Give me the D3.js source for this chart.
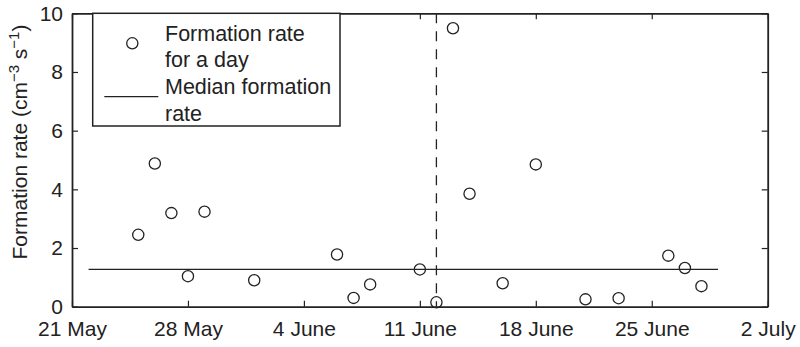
<!DOCTYPE html>
<html lang="en">
<head>
    <meta charset="UTF-8">
    <title>Formation rate</title>
    <script src="https://cdn.jsdelivr.net/npm/d3@7"></script>
    <style>
        body { margin: 0; background: #fff; }
        text { font-family: "Liberation Sans", Arial, Helvetica, sans-serif; fill: #222; }
    </style>
</head>
<body>
<svg id="chart" width="800" height="347"></svg>

<script>
    /* global d3 */

    // daily formation rates (date of event, rate in cm^-3 s^-1)
    var days = ["2010-05-25", "2010-05-26", "2010-05-27", "2010-05-28", "2010-05-29",
        "2010-06-01", "2010-06-06", "2010-06-07", "2010-06-08", "2010-06-11",
        "2010-06-12", "2010-06-13", "2010-06-14", "2010-06-16", "2010-06-18",
        "2010-06-21", "2010-06-23", "2010-06-26", "2010-06-27", "2010-06-28"];
    var rates = [2.45, 4.88, 3.19, 1.04, 3.24,
        0.9, 1.78, 0.3, 0.76, 1.27,
        0.15, 9.49, 3.85, 0.8, 4.85,
        0.25, 0.29, 1.74, 1.32, 0.7];

    var medianRate = 1.27;
    var medianSpan = ["2010-05-22", "2010-06-29"];
    var markerDay = "2010-06-12";

    var xTicks = ["2010-05-21", "2010-05-28", "2010-06-04", "2010-06-11",
        "2010-06-18", "2010-06-25", "2010-07-02"];
    var xTickLabels = ["21 May", "28 May", "4 June", "11 June", "18 June", "25 June", "2 July"];
    var yTicks = [0, 2, 4, 6, 8, 10];

    var parse = d3.utcParse("%Y-%m-%d");

    var svg = d3.select("#chart"),
        margin = {top: 13.3, right: 32.3, bottom: 40.3, left: 72},
        width = 800 - margin.left - margin.right,
        height = 347 - margin.top - margin.bottom,
        g = svg.append("g").attr("transform", "translate(" + margin.left + "," + margin.top + ")");

    var x = d3.scaleUtc()
        .domain([parse(xTicks[0]), parse(xTicks[xTicks.length - 1])])
        .range([0, width]);
    var y = d3.scaleLinear().domain([0, 10]).range([height, 0]);

    var tickDates = xTicks.map(parse);

    // frame axes, ticks pointing inward
    var axBottom = g.append("g")
        .attr("transform", "translate(0," + height + ")")
        .call(d3.axisBottom(x).tickValues(tickDates).tickSizeInner(-6).tickSizeOuter(0).tickPadding(14)
            .tickFormat(function (d, i) { return xTickLabels[i]; }));
    var axTop = g.append("g")
        .call(d3.axisTop(x).tickValues(tickDates).tickSizeInner(-6).tickSizeOuter(0).tickFormat(""));
    var axLeft = g.append("g")
        .call(d3.axisLeft(y).tickValues(yTicks).tickSizeInner(-6).tickSizeOuter(0).tickPadding(9));
    var axRight = g.append("g")
        .attr("transform", "translate(" + width + ",0)")
        .call(d3.axisRight(y).tickValues(yTicks).tickSizeInner(-6).tickSizeOuter(0).tickFormat(""));

    [axBottom, axTop, axLeft, axRight].forEach(function (a) {
        a.select(".domain").attr("stroke", "#222").attr("stroke-width", 1.8);
        a.selectAll(".tick line").attr("stroke", "#222").attr("stroke-width", 1.2);
        a.selectAll(".tick text").attr("font-size", 21).attr("fill", "#222")
            .style("font-family", "'Liberation Sans', Arial, sans-serif");
    });

    // y axis title
    var ylab = svg.append("text")
        .attr("transform", "translate(27," + (margin.top + height / 2 - 18) + ") rotate(-90)")
        .attr("text-anchor", "middle")
        .attr("font-size", 21);
    ylab.append("tspan").text("Formation rate (cm");
    ylab.append("tspan").attr("font-size", 15).attr("dy", -8).text("\u22123");
    ylab.append("tspan").attr("dy", 8).text(" s");
    ylab.append("tspan").attr("font-size", 15).attr("dy", -8).text("\u22121");
    ylab.append("tspan").attr("dy", 8).text(")");

    // median line
    g.append("line")
        .attr("x1", x(parse(medianSpan[0])))
        .attr("x2", x(parse(medianSpan[1])))
        .attr("y1", y(medianRate))
        .attr("y2", y(medianRate))
        .attr("stroke", "#222")
        .attr("stroke-width", 1.3);

    // dashed marker
    g.append("line")
        .attr("x1", x(parse(markerDay)))
        .attr("x2", x(parse(markerDay)))
        .attr("y1", y(10))
        .attr("y2", y(0))
        .attr("stroke", "#222")
        .attr("stroke-width", 1.3)
        .attr("stroke-dasharray", "10,8");

    // daily points
    g.selectAll("circle.pt")
        .data(days.map(function (d, i) { return {date: parse(d), v: rates[i]}; }))
        .enter().append("circle")
        .attr("class", "pt")
        .attr("cx", function (d) { return x(d.date); })
        .attr("cy", function (d) { return y(d.v); })
        .attr("r", 5.6)
        .attr("fill", "none")
        .attr("stroke", "#222")
        .attr("stroke-width", 1.3);

    // legend
    var lg = svg.append("g");
    lg.append("rect")
        .attr("x", 92.7).attr("y", margin.top)
        .attr("width", 247.3).attr("height", 112.7)
        .attr("fill", "#fff").attr("stroke", "#222").attr("stroke-width", 1.5);
    lg.append("circle")
        .attr("cx", 132.3).attr("cy", 43.3).attr("r", 5.6)
        .attr("fill", "none").attr("stroke", "#222").attr("stroke-width", 1.3);
    lg.append("line")
        .attr("x1", 104.3).attr("x2", 158.3).attr("y1", 96.7).attr("y2", 96.7)
        .attr("stroke", "#222").attr("stroke-width", 1.3);
    var legendLines = ["Formation rate", "for a day", "Median formation", "rate"];
    lg.selectAll("text.leg")
        .data(legendLines)
        .enter().append("text")
        .attr("class", "leg")
        .attr("x", 165)
        .attr("y", function (d, i) { return 40.5 + i * 26.7; })
        .attr("font-size", 21.5)
        .text(function (d) { return d; });
</script>
</body>
</html>
